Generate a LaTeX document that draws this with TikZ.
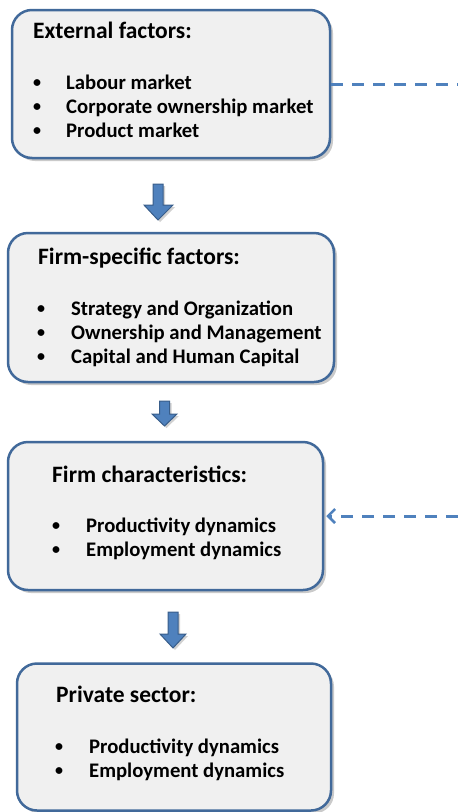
\documentclass[tikz,border=0pt]{standalone}
\usepackage{fontspec}
\setmainfont{Carlito}
\usetikzlibrary{shadows,arrows.meta}
\definecolor{boxborder}{HTML}{41699A}
\definecolor{boxfill}{HTML}{F0F0F0}
\definecolor{arrfill}{HTML}{4F81BD}
\definecolor{arrborder}{HTML}{385D8A}
\definecolor{dashcol}{HTML}{4F81BD}
\tikzset{
  factorbox/.style={draw=boxborder, line width=2.5pt, fill=boxfill, rounded corners=20pt,
    drop shadow={shadow xshift=3pt, shadow yshift=-3pt, opacity=0.35, fill=black!60},
    inner sep=0pt},
  titletxt/.style={anchor=base west, inner sep=0pt, font=\fontsize{23.5}{28}\selectfont\bfseries},
  itemtxt/.style={anchor=base west, inner sep=0pt, font=\fontsize{20.7}{25}\selectfont\bfseries},
  bullettxt/.style={anchor=center, inner sep=0pt, yshift=-3pt, font=\fontsize{16}{18}\selectfont\bfseries},
  blockarrow/.style={draw=arrborder, line width=1pt, fill=arrfill,
    drop shadow={shadow xshift=2pt, shadow yshift=-2pt, opacity=0.3, fill=black!60}},
  dashconn/.style={draw=dashcol, line width=3pt, dash pattern=on 12pt off 9pt}
}
\begin{document}
\begin{tikzpicture}[x=1pt,y=-1pt]
\useasboundingbox (0,0) rectangle (458,812);
% boxes
\node[factorbox, minimum width=318pt, minimum height=148pt] (b1) at (171,84) {};
\node[factorbox, minimum width=326pt, minimum height=149pt] (b2) at (171,307.5) {};
\node[factorbox, minimum width=315pt, minimum height=148pt] (b3) at (165.5,516) {};
\node[factorbox, minimum width=314pt, minimum height=147pt] (b4) at (174,737) {};
% box 1 text
\node[titletxt] (t1) at (33,38) {External factors:};
\node[bullettxt] (b1d1) at (37,81) {•};
\node[bullettxt] (b1d2) at (37,105) {•};
\node[bullettxt] (b1d3) at (37,129) {•};
\node[itemtxt] (i11) at (66,89) {Labour market};
\node[itemtxt] (i12) at (66,113) {Corporate ownership market};
\node[itemtxt] (i13) at (66,137) {Product market};
% box 2 text
\node[titletxt] (t2) at (38,264) {Firm-specific factors:};
\node[bullettxt] (b2d1) at (41,307) {•};
\node[bullettxt] (b2d2) at (41,331) {•};
\node[bullettxt] (b2d3) at (41,355) {•};
\node[itemtxt] (i21) at (71,315) {Strategy and Organization};
\node[itemtxt] (i22) at (71,339) {Ownership and Management};
\node[itemtxt] (i23) at (71,363) {Capital and Human Capital};
% box 3 text
\node[titletxt] (t3) at (52,482) {Firm characteristics:};
\node[bullettxt] (b3d1) at (56,524) {•};
\node[bullettxt] (b3d2) at (56,548) {•};
\node[itemtxt] (i31) at (86,532) {Productivity dynamics};
\node[itemtxt] (i32) at (86,556) {Employment dynamics};
% box 4 text
\node[titletxt] (t4) at (56,702) {Private sector:};
\node[bullettxt] (b4d1) at (59,745) {•};
\node[bullettxt] (b4d2) at (59,769) {•};
\node[itemtxt] (i41) at (89,753) {Productivity dynamics};
\node[itemtxt] (i42) at (89,777) {Employment dynamics};
% block arrows
\path[blockarrow] (153,184) -- (163,184) -- (163,205) -- (173,205) -- (158,220) -- (144,205) -- (153,205) -- cycle;
\path[blockarrow] (159.5,401) -- (169.5,401) -- (169.5,414) -- (177,414) -- (164.5,426) -- (152,414) -- (159.5,414) -- cycle;
\path[blockarrow] (168,612) -- (178,612) -- (178,634) -- (186,634) -- (173,648) -- (160,634) -- (168,634) -- cycle;
% dashed connectors
\coordinate (r1) at (458,84);
\coordinate (r3) at (458,516);
\draw[dashconn] (b1.east |- r1) -- (r1);
\draw[dashconn, -{Straight Barb[length=7pt,width=14pt,line width=2.5pt]}] (r3) -- ([xshift=2pt]b3.east |- r3);
\end{tikzpicture}
\end{document}
